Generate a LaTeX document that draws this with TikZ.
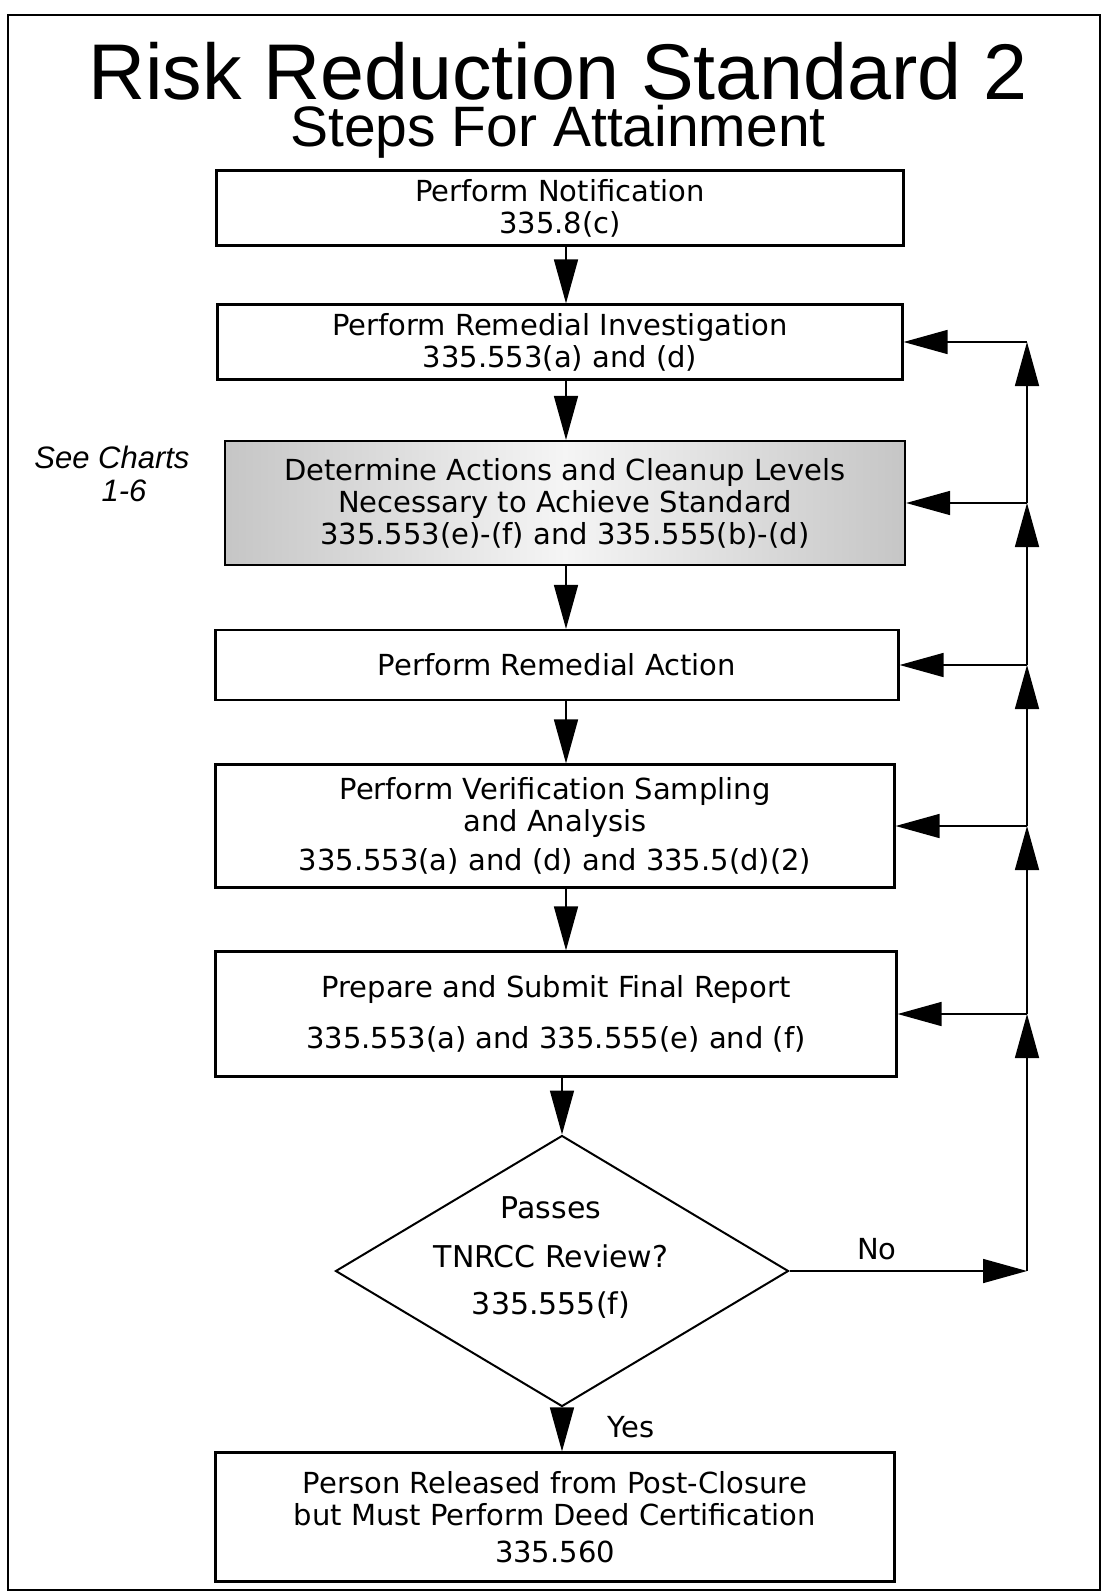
\documentclass[tikz,border=0pt]{standalone}
\usepackage{fontspec}
\setmainfont{DejaVu Sans}
\newfontfamily\headfont{Liberation Sans}
\usetikzlibrary{arrows.meta,shapes.geometric}

\tikzset{
  stepbox/.style={draw, line width=2.2pt, align=center, inner sep=0pt,
    font=\fontsize{29}{32}\selectfont},
  decision/.style={draw, diamond, line width=2pt, inner sep=0pt},
  note/.style={font=\fontsize{29}{32}\selectfont, inner sep=0pt},
  flow/.style={line width=1.6pt, -{Triangle[length=44pt,width=24pt]}}
}

\begin{document}
\begin{tikzpicture}[x=1pt, y=-1pt]
    \useasboundingbox (0,0) rectangle (1104,1595);
    \draw[line width=2.2pt] (8,15) rectangle (1100,1590);

    \node[font=\headfont\fontsize{57}{47}\selectfont, align=center, anchor=north, inner sep=0pt] (title) at (558,42)
        {{\fontsize{79}{47}\selectfont Risk Reduction Standard 2}\\Steps For Attainment};

    \node[stepbox, minimum width=687pt, minimum height=75pt] (notify) at (560,208)
        {Perform Notification\\335.8(c)};
    \node[stepbox, minimum width=685pt, minimum height=75pt] (investig) at (560,342)
        {Perform Remedial Investigation\\335.553(a) and (d)};
    \node[stepbox, minimum width=680pt, minimum height=124pt,
          left color=gray!45, right color=gray!45, middle color=gray!8] (determine) at (565,503)
        {Determine Actions and Cleanup Levels\\Necessary to Achieve Standard\\335.553(e)-(f) and 335.555(b)-(d)};
    \node[font=\headfont\itshape\fontsize{31}{33}\selectfont, align=center] (seecharts) at (112,474)
        {See Charts\\\hspace*{24pt}1-6};
    \node[stepbox, minimum width=683pt, minimum height=70pt] (action) at (557,665)
        {Perform Remedial Action};
    \node[stepbox, minimum width=679pt, minimum height=123pt] (verify) at (555,826)
        {Perform Verification Sampling\\and Analysis\\[7pt]335.553(a) and (d) and 335.5(d)(2)};
    \node[stepbox, minimum width=681pt, minimum height=125pt] (report) at (556,1014)
        {Prepare and Submit Final Report\\[19pt]335.553(a) and 335.555(e) and (f)};
    \node[decision, minimum width=453pt, minimum height=271pt] (review) at (562,1271) {};
    \node[font=\fontsize{30}{32}\selectfont, align=center] (reviewtext) at (551,1258)
        {Passes\\[17pt]TNRCC Review?\\[15pt]335.555(f)};
    \node[stepbox, minimum width=679pt, minimum height=129pt] (release) at (555,1517)
        {Person Released from Post-Closure\\but Must Perform Deed Certification\\[5pt]335.560};

    % main flow
    \coordinate (spine) at (566,0);
    \draw[flow] (spine |- notify.south) -- (spine |- investig.north);
    \draw[flow] (spine |- investig.south) -- (spine |- determine.north);
    \draw[flow] (spine |- determine.south) -- (spine |- action.north);
    \draw[flow] (spine |- action.south) -- (spine |- verify.north);
    \draw[flow] (spine |- verify.south) -- (spine |- report.north);
    \draw[flow] (review.north |- report.south) -- (review.north);
    \draw[flow] (review.south) -- (review.south |- release.north);
    \node[note] (yes) at (631,1427) {Yes};

    % loop back on the right
    \coordinate (fbno) at (1027,1271);
    \draw[flow] (review.east) -- (fbno);
    \node[note] (no) at (877,1249) {No};
    \draw[flow] (fbno) -- (fbno |- report.east);
    \draw[flow] (fbno |- report.east) -- (fbno |- verify.east);
    \draw[flow] (fbno |- verify.east) -- (fbno |- action.east);
    \draw[flow] (fbno |- action.east) -- (fbno |- determine.east);
    \draw[flow] (fbno |- determine.east) -- (fbno |- investig.east);
    \foreach \stage in {investig,determine,action,verify,report}
        \draw[flow] (fbno |- \stage.east) -- (\stage.east);
\end{tikzpicture}
\end{document}
